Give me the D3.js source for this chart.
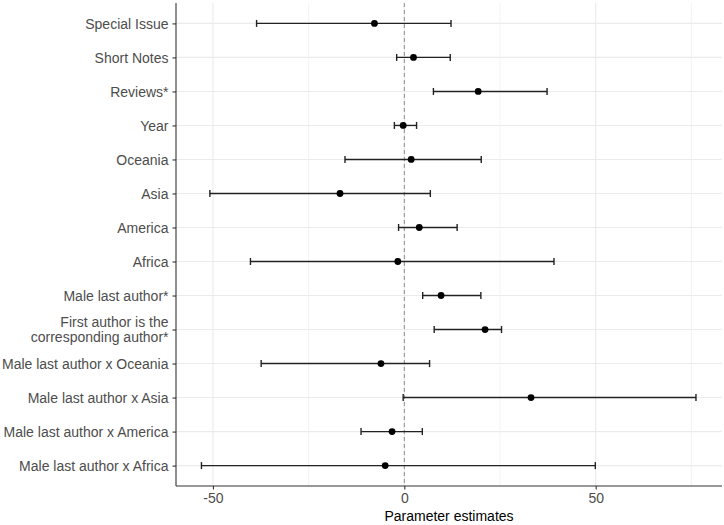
<!DOCTYPE html>
<html><head><meta charset="utf-8">
<script src="https://cdn.jsdelivr.net/npm/d3@7"></script>
<style>body{margin:0;background:#fff;} text{font-family:"Liberation Sans",Arial,Helvetica,sans-serif;}</style>
</head><body>
<svg id="chart" width="724" height="525"></svg>
<script>
const terms = ["Special Issue","Short Notes","Reviews*","Year","Oceania","Asia","America","Africa","Male last author*","First author is the\ncorresponding author*","Male last author x Oceania","Male last author x Asia","Male last author x America","Male last author x Africa"];
const estimates = [-7.8, 2.4, 19.3, -0.3, 1.8, -16.8, 3.9, -1.7, 9.6, 21.1, -6.1, 33.1, -3.2, -5.0];
const lower = [-38.6, -2.0, 7.6, -2.6, -15.5, -50.8, -1.5, -40.2, 4.8, 7.8, -37.4, -0.3, -11.3, -53.0];
const upper = [12.2, 12.0, 37.3, 3.2, 20.1, 6.8, 13.8, 39.1, 20.0, 25.4, 6.6, 76.2, 4.7, 49.9];
const majorTicks = [-50, 0, 50];
const minorTicks = [-25, 25, 75];
const xTitle = "Parameter estimates";

const svg = d3.select("#chart");
const L = 176, R = 722, T = 3, B = 486;
const data = terms.map((t,i)=>({term:t, est:estimates[i], lo:lower[i], hi:upper[i]}));

const x = d3.scaleLinear().domain([-59.65, 83.0]).range([L, R]);
const y = d3.scalePoint().domain(terms).range([T, B]).padding(0.6);

// grid
const g = svg.append("g");
g.selectAll(".hg").data(terms).join("line")
  .attr("x1", L).attr("x2", R).attr("y1", d=>y(d)).attr("y2", d=>y(d))
  .attr("stroke", "#ebebeb").attr("stroke-width", 1.1);
g.selectAll(".mg").data(minorTicks).join("line")
  .attr("x1", d=>x(d)).attr("x2", d=>x(d)).attr("y1", T).attr("y2", B)
  .attr("stroke", "#f0f0f0").attr("stroke-width", 0.8);
g.selectAll(".vg").data(majorTicks).join("line")
  .attr("x1", d=>x(d)).attr("x2", d=>x(d)).attr("y1", T).attr("y2", B)
  .attr("stroke", "#ebebeb").attr("stroke-width", 1.1);

// zero line
svg.append("line").attr("x1", x(0)).attr("x2", x(0)).attr("y1", T).attr("y2", B)
  .attr("stroke", "#8c8c8c").attr("stroke-width", 1).attr("stroke-dasharray", "4,3");

// error bars
const eb = svg.append("g").attr("stroke", "#222").attr("stroke-width", 1.4);
eb.selectAll(".bar").data(data).join("line")
  .attr("x1", d=>x(d.lo)).attr("x2", d=>x(d.hi)).attr("y1", d=>y(d.term)).attr("y2", d=>y(d.term));
eb.selectAll(".capl").data(data).join("line")
  .attr("x1", d=>x(d.lo)).attr("x2", d=>x(d.lo)).attr("y1", d=>y(d.term)-3.5).attr("y2", d=>y(d.term)+3.5);
eb.selectAll(".caph").data(data).join("line")
  .attr("x1", d=>x(d.hi)).attr("x2", d=>x(d.hi)).attr("y1", d=>y(d.term)-3.5).attr("y2", d=>y(d.term)+3.5);
svg.append("g").selectAll("circle").data(data).join("circle")
  .attr("cx", d=>x(d.est)).attr("cy", d=>y(d.term)).attr("r", 3.4).attr("fill", "#000");

// axes
const xa = svg.append("g").attr("transform", `translate(0,${B})`)
  .call(d3.axisBottom(x).tickValues(majorTicks).tickSize(3.5).tickPadding(4).tickFormat(d3.format("d")));
const ya = svg.append("g").attr("transform", `translate(${L},0)`)
  .call(d3.axisLeft(y).tickSize(3.5).tickPadding(4).tickFormat(""));
[xa, ya].forEach(a=>{
  a.select(".domain").attr("stroke", "#333").attr("stroke-width", 1.1);
  a.selectAll(".tick line").attr("stroke", "#333").attr("stroke-width", 1.1);
});
xa.select(".domain").attr("d", `M${L},0H${R}`);
ya.select(".domain").attr("d", `M0,${T}V${B}`);
xa.selectAll(".tick text").attr("font-size", 14).attr("fill", "#4d4d4d")
  .attr("font-family", '"Liberation Sans",Arial,sans-serif').text(d=> d<0 ? "-"+Math.abs(d) : d);

// y labels (support multi-line)
ya.selectAll(".tick").each(function(d){
  const lines = d.split("\n");
  const t = d3.select(this).append("text").attr("x", -7.5).attr("text-anchor", "end")
    .attr("font-size", 14).attr("fill", "#4d4d4d");
  const lh = 15;
  lines.forEach((ln,i)=>{
    t.append("tspan").attr("x", -7.5).attr("y", (i-(lines.length-1)/2)*lh).attr("dy", "0.35em").text(ln);
  });
});

svg.append("text").attr("x", (L+R)/2).attr("y", 521).attr("text-anchor", "middle")
  .attr("font-size", 14).attr("fill", "#000").text(xTitle);
</script>
</body></html>
